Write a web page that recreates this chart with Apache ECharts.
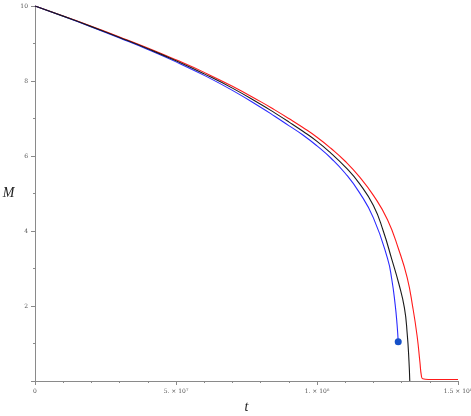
<!DOCTYPE html>
<html>
<head>
<meta charset="utf-8">
<script src="https://cdn.jsdelivr.net/npm/echarts@6/dist/echarts.min.js"></script>
<style>
  html, body { margin: 0; padding: 0; background: #fff; }
  #chart { width: 471px; height: 416px; }
</style>
</head>
<body>
<div id="chart"></div>
<script>
// t values are in units of 1e7
var tBlack = [0, 1, 2, 3, 4, 5, 6, 7, 8, 8.5, 9, 9.5, 10, 10.5, 11, 11.5, 12, 12.35, 12.65, 12.9, 13.1, 13.2, 13.26, 13.29];
var mBlack = [10, 9.73, 9.45, 9.16, 8.86, 8.54, 8.19, 7.81, 7.38, 7.15, 6.91, 6.66, 6.39, 6.07, 5.71, 5.27, 4.68, 4.0, 3.25, 2.6, 1.95, 1.25, 0.55, 0];

var tBlue = [0, 1, 2, 3, 4, 5, 6, 7, 8, 8.5, 9, 9.5, 10, 10.5, 11, 11.5, 12, 12.5, 12.65, 12.77, 12.84, 12.88];
var mBlue = [10, 9.725, 9.44, 9.145, 8.84, 8.51, 8.15, 7.75, 7.30, 7.06, 6.81, 6.56, 6.27, 5.94, 5.54, 5.03, 4.35, 3.27, 2.72, 2.05, 1.5, 1.05];

var tRed = [0, 1, 2, 3, 4, 5, 6, 7, 8, 8.5, 9, 9.5, 10, 10.5, 11, 11.5, 12, 12.5, 12.9, 13.2, 13.4, 13.55, 13.65, 13.7, 13.75, 13.95, 15];
var mRed = [10, 9.735, 9.46, 9.175, 8.88, 8.565, 8.23, 7.86, 7.45, 7.23, 7.00, 6.76, 6.50, 6.20, 5.86, 5.45, 4.95, 4.30, 3.5, 2.75, 1.95, 1.2, 0.5, 0.15, 0.06, 0.04, 0.04];

var xTickLabels = {0: '0', 5: '5. × 10⁷', 10: '1. × 10⁸', 15: '1.5 × 10⁸'};

function pairs(ts, ms) {
  return ts.map(function (t, i) { return [t * 1e7, ms[i]]; });
}

var blackData = pairs(tBlack, mBlack);
var blueData = pairs(tBlue, mBlue);
var redData = pairs(tRed, mRed);

var chart = echarts.init(document.getElementById('chart'));
var axisGray = '#8a8a8a';
var labelGray = '#555';

var option = {
  backgroundColor: '#fff',
  animation: false,
  grid: { left: 35, right: 13, top: 6, bottom: 35, containLabel: false, outerBoundsMode: 'none' },
  xAxis: {
    type: 'value',
    min: 0,
    max: 1.5e8,
    interval: 5e7,
    name: 't',
    nameLocation: 'middle',
    nameGap: 19,
    nameTextStyle: { fontFamily: 'Liberation Serif', fontStyle: 'italic', fontSize: 14, color: '#222' },
    axisLine: { show: true, lineStyle: { color: axisGray, width: 1 } },
    axisTick: { show: true, length: 4, lineStyle: { color: axisGray } },
    minorTick: { show: true, splitNumber: 5, length: 2, lineStyle: { color: axisGray } },
    splitLine: { show: false },
    axisLabel: {
      margin: 7,
      fontSize: 6,
      fontFamily: 'DejaVu Serif',
      color: labelGray,
      formatter: function (v) { return xTickLabels[Math.round(v / 1e7)] || ''; }
    }
  },
  yAxis: {
    type: 'value',
    min: 0,
    max: 10,
    interval: 2,
    name: 'M',
    nameLocation: 'middle',
    nameRotate: 0,
    nameGap: 20,
    nameTextStyle: { fontFamily: 'Liberation Serif', fontStyle: 'italic', fontSize: 14, color: '#222' },
    axisLine: { show: true, lineStyle: { color: axisGray, width: 1 } },
    axisTick: { show: true, length: 4, lineStyle: { color: axisGray } },
    minorTick: { show: true, splitNumber: 2, length: 2, lineStyle: { color: axisGray } },
    splitLine: { show: false },
    axisLabel: {
      margin: 7,
      fontSize: 6,
      fontFamily: 'DejaVu Serif',
      color: labelGray,
      formatter: function (v) { return v === 0 ? '' : String(v); }
    }
  },
  series: [
    {
      name: 'red', type: 'line', data: redData, smooth: 0.5, showSymbol: false,
      lineStyle: { color: '#ff1a1a', width: 1.1 }, z: 2
    },
    {
      name: 'blue', type: 'line', data: blueData, smooth: 0.5, showSymbol: false,
      lineStyle: { color: '#2a2aff', width: 1.1 }, z: 3,
      markPoint: {
        symbol: 'circle', symbolSize: 7,
        itemStyle: { color: '#1550c8' },
        label: { show: false },
        data: [{ coord: blueData[blueData.length - 1] }]
      }
    },
    {
      name: 'black', type: 'line', data: blackData, smooth: 0.5, showSymbol: false,
      lineStyle: { color: '#1a1a1a', width: 1.1 }, z: 4
    }
  ]
};

chart.setOption(option);
</script>
</body>
</html>
